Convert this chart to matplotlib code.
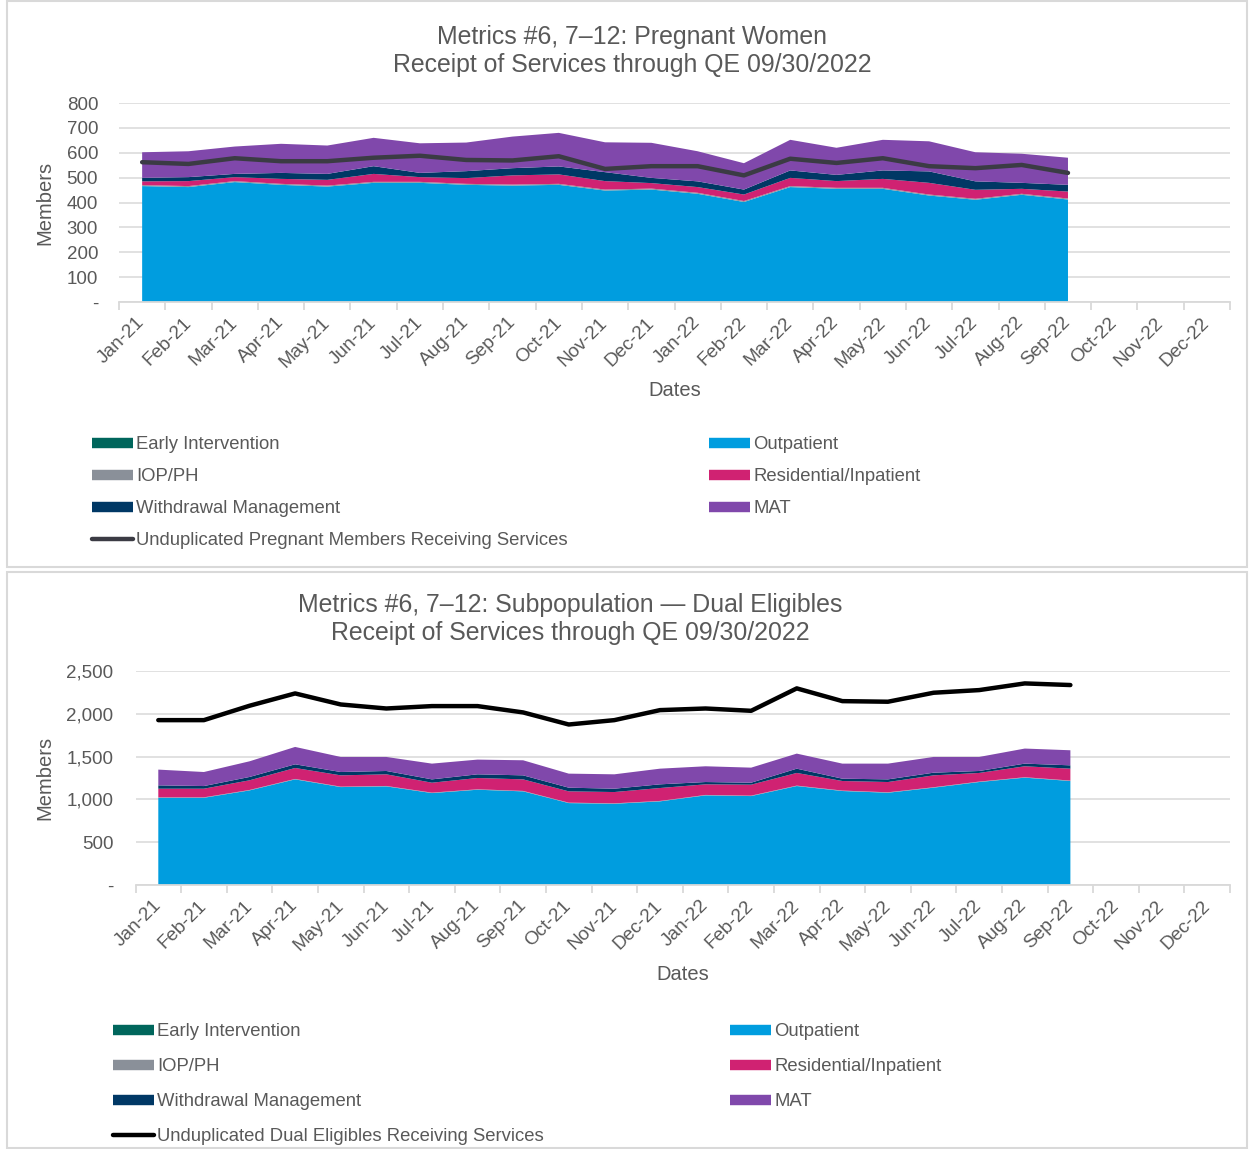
import matplotlib
matplotlib.use("Agg")
import matplotlib.pyplot as plt
from matplotlib.lines import Line2D
from matplotlib.patches import Rectangle
import numpy as np

plt.rcParams['font.family'] = ['Liberation Sans', 'DejaVu Sans']

# ---------------- data ----------------
months = ["Jan-21", "Feb-21", "Mar-21", "Apr-21", "May-21", "Jun-21", "Jul-21", "Aug-21",
          "Sep-21", "Oct-21", "Nov-21", "Dec-21", "Jan-22", "Feb-22", "Mar-22", "Apr-22",
          "May-22", "Jun-22", "Jul-22", "Aug-22", "Sep-22", "Oct-22", "Nov-22", "Dec-22"]

# Pregnant women
pw_early = [0] * 21
pw_outpatient = [466, 462, 482, 471, 464, 479, 479, 471, 468, 471, 448, 452, 435, 402, 462,
                 455, 455, 428, 411, 431, 412]
pw_iop = [4] * 21
pw_residential = [15, 20, 16, 20, 23, 32, 19, 23, 37, 38, 34, 22, 23, 26, 33, 27, 36, 47, 36, 20, 28]
pw_withdrawal = [14, 16, 13, 24, 24, 31, 17, 28, 29, 32, 36, 21, 23, 20, 30, 25, 34, 46, 34, 24, 27]
pw_mat = [103, 104, 110, 117, 114, 114, 119, 115, 127, 135, 120, 141, 121, 106, 123, 109, 123,
          121, 117, 117, 109]
pw_unduplicated = [562, 555, 578, 566, 566, 580, 588, 571, 569, 586, 535, 546, 546, 509, 576,
                   559, 578, 546, 538, 551, 519]

# Dual eligibles
de_early = [0] * 21
de_outpatient = [1019, 1019, 1105, 1234, 1144, 1152, 1074, 1113, 1094, 957, 949, 977, 1047, 1039,
                 1156, 1098, 1078, 1137, 1203, 1254, 1215]
de_iop = [5] * 21
de_residential = [101, 101, 113, 128, 132, 136, 116, 132, 135, 132, 132, 151, 124, 128, 148, 112,
                  120, 139, 101, 128, 139]
de_withdrawal = [39, 31, 39, 43, 39, 39, 39, 43, 47, 43, 39, 43, 27, 23, 50, 27, 31, 31, 23, 31, 39]
de_mat = [184, 164, 183, 203, 176, 164, 184, 172, 176, 164, 168, 183, 184, 176, 176, 176, 184,
          184, 164, 176, 176]
de_unduplicated = [1926, 1926, 2094, 2238, 2109, 2062, 2090, 2090, 2016, 1875, 1926, 2043, 2062,
                   2035, 2297, 2148, 2141, 2246, 2277, 2355, 2336]

series_names = ["Early Intervention", "Outpatient", "IOP/PH", "Residential/Inpatient",
                "Withdrawal Management", "MAT"]

# ---------------- style ----------------
C_EARLY = "#00665c"
C_OUT = "#009ddf"
C_IOP = "#8a9099"
C_RES = "#d02272"
C_WM = "#003865"
C_MAT = "#8048ab"
TXT = "#595959"
GRID = "#d9d9d9"

W, H = 1249, 1149
fig = plt.figure(figsize=(W / 100, H / 100), dpi=100)


def fx(px):
    return px / W


def fy(py):
    return 1 - py / H


# panel borders
for (x0, y0, x1, y1) in [(7, 1, 1247, 567), (7, 572, 1247, 1148)]:
    fig.add_artist(Rectangle((fx(x0), fy(y1)), fx(x1) - fx(x0), fy(y0) - fy(y1),
                             transform=fig.transFigure, fill=False, edgecolor=GRID, lw=1.5))


def draw_panel(rect, stacks, line, line_color, ylim, yticks, yticklabels, ypad):
    ax = fig.add_axes(rect)
    x = np.arange(len(line))
    colors = [C_EARLY, C_OUT, C_IOP, C_RES, C_WM, C_MAT]
    ax.stackplot(x, *stacks, colors=colors, linewidth=0, zorder=2)
    ax.plot(x, line, color=line_color, lw=3.2, solid_capstyle='round', zorder=3)
    ax.set_xlim(-0.5, len(months) - 0.5)
    ax.set_ylim(*ylim)
    ax.set_yticks(yticks)
    ax.set_yticklabels(yticklabels, fontsize=13.5, color=TXT)
    ax.tick_params(axis='y', length=0, pad=ypad)
    ax.yaxis.grid(True, color=GRID, lw=1.1, zorder=0)
    ax.set_axisbelow(True)
    ax.set_xticks(np.arange(len(months)))
    ax.set_xticklabels(months, rotation=45, ha='right', va='center', rotation_mode='anchor',
                       fontsize=13.7, color=TXT)
    ax.set_xticks(np.arange(-0.5, len(months)), minor=True)
    ax.tick_params(axis='x', which='major', length=0, pad=13)
    ax.tick_params(axis='x', which='minor', length=6, color=GRID, width=1.3)
    for s in ['top', 'right', 'left']:
        ax.spines[s].set_visible(False)
    ax.spines['bottom'].set_color(GRID)
    ax.spines['bottom'].set_linewidth(1.3)
    return ax


# ---------- top panel ----------
ax1 = draw_panel([fx(119), fy(302), fx(1230) - fx(119), fy(103) - fy(302)],
                 [pw_early, pw_outpatient, pw_iop, pw_residential, pw_withdrawal, pw_mat],
                 pw_unduplicated, "#3b3b44", (0, 800), np.arange(0, 801, 100),
                 ["-"] + [str(v) for v in range(100, 801, 100)], 15)
fig.text(fx(632), fy(51), "Metrics #6, 7\u201312: Pregnant Women\nReceipt of Services through QE 09/30/2022",
         ha='center', va='center', fontsize=17.9, color=TXT, linespacing=1.23)
fig.text(fx(45), fy(203), "Members", rotation=90, ha='center', va='center', fontsize=14.5, color=TXT)
fig.text(fx(675), fy(391), "Dates", ha='center', va='center', fontsize=14.5, color=TXT)

# ---------- bottom panel ----------
ax2 = draw_panel([fx(135.5), fy(885), fx(1230) - fx(135.5), fy(671) - fy(885)],
                 [de_early, de_outpatient, de_iop, de_residential, de_withdrawal, de_mat],
                 de_unduplicated, "#000000", (0, 2500), np.arange(0, 2501, 500),
                 ["-", "500", "1,000", "1,500", "2,000", "2,500"], 16)
fig.text(fx(570), fy(619), "Metrics #6, 7\u201312: Subpopulation \u2014 Dual Eligibles\nReceipt of Services through QE 09/30/2022",
         ha='center', va='center', fontsize=17.9, color=TXT, linespacing=1.23)
fig.text(fx(45), fy(778), "Members", rotation=90, ha='center', va='center', fontsize=14.5, color=TXT)
fig.text(fx(683), fy(974), "Dates", ha='center', va='center', fontsize=14.5, color=TXT)


# ---------- legends ----------
def h_patch(c):
    return Line2D([0], [0], color=c, lw=7.5, solid_capstyle='butt')


def h_line(c):
    return Line2D([0], [0], color=c, lw=3.2, solid_capstyle='round')


def add_legend(handles, labels, xh, ytop, spacing):
    fig.legend(handles, labels, loc='upper left', bbox_to_anchor=(fx(xh), fy(ytop)),
               frameon=False, fontsize=13.3, labelcolor=TXT, handlelength=2.2,
               handletextpad=0.2, borderpad=0, borderaxespad=0, labelspacing=spacing)


add_legend([h_patch(C_EARLY), h_patch(C_IOP), h_patch(C_WM), h_line("#3b3b44")],
           [series_names[0], series_names[2], series_names[4],
            "Unduplicated Pregnant Members Receiving Services"], 92, 436, 0.82)
add_legend([h_patch(C_OUT), h_patch(C_RES), h_patch(C_MAT)],
           [series_names[1], series_names[3], series_names[5]], 709, 436, 0.82)
add_legend([h_patch(C_EARLY), h_patch(C_IOP), h_patch(C_WM), h_line("#000000")],
           [series_names[0], series_names[2], series_names[4],
            "Unduplicated Dual Eligibles Receiving Services"], 113, 1023, 0.98)
add_legend([h_patch(C_OUT), h_patch(C_RES), h_patch(C_MAT)],
           [series_names[1], series_names[3], series_names[5]], 730, 1023, 0.98)

fig.savefig("out.png", dpi=100, facecolor="white")
